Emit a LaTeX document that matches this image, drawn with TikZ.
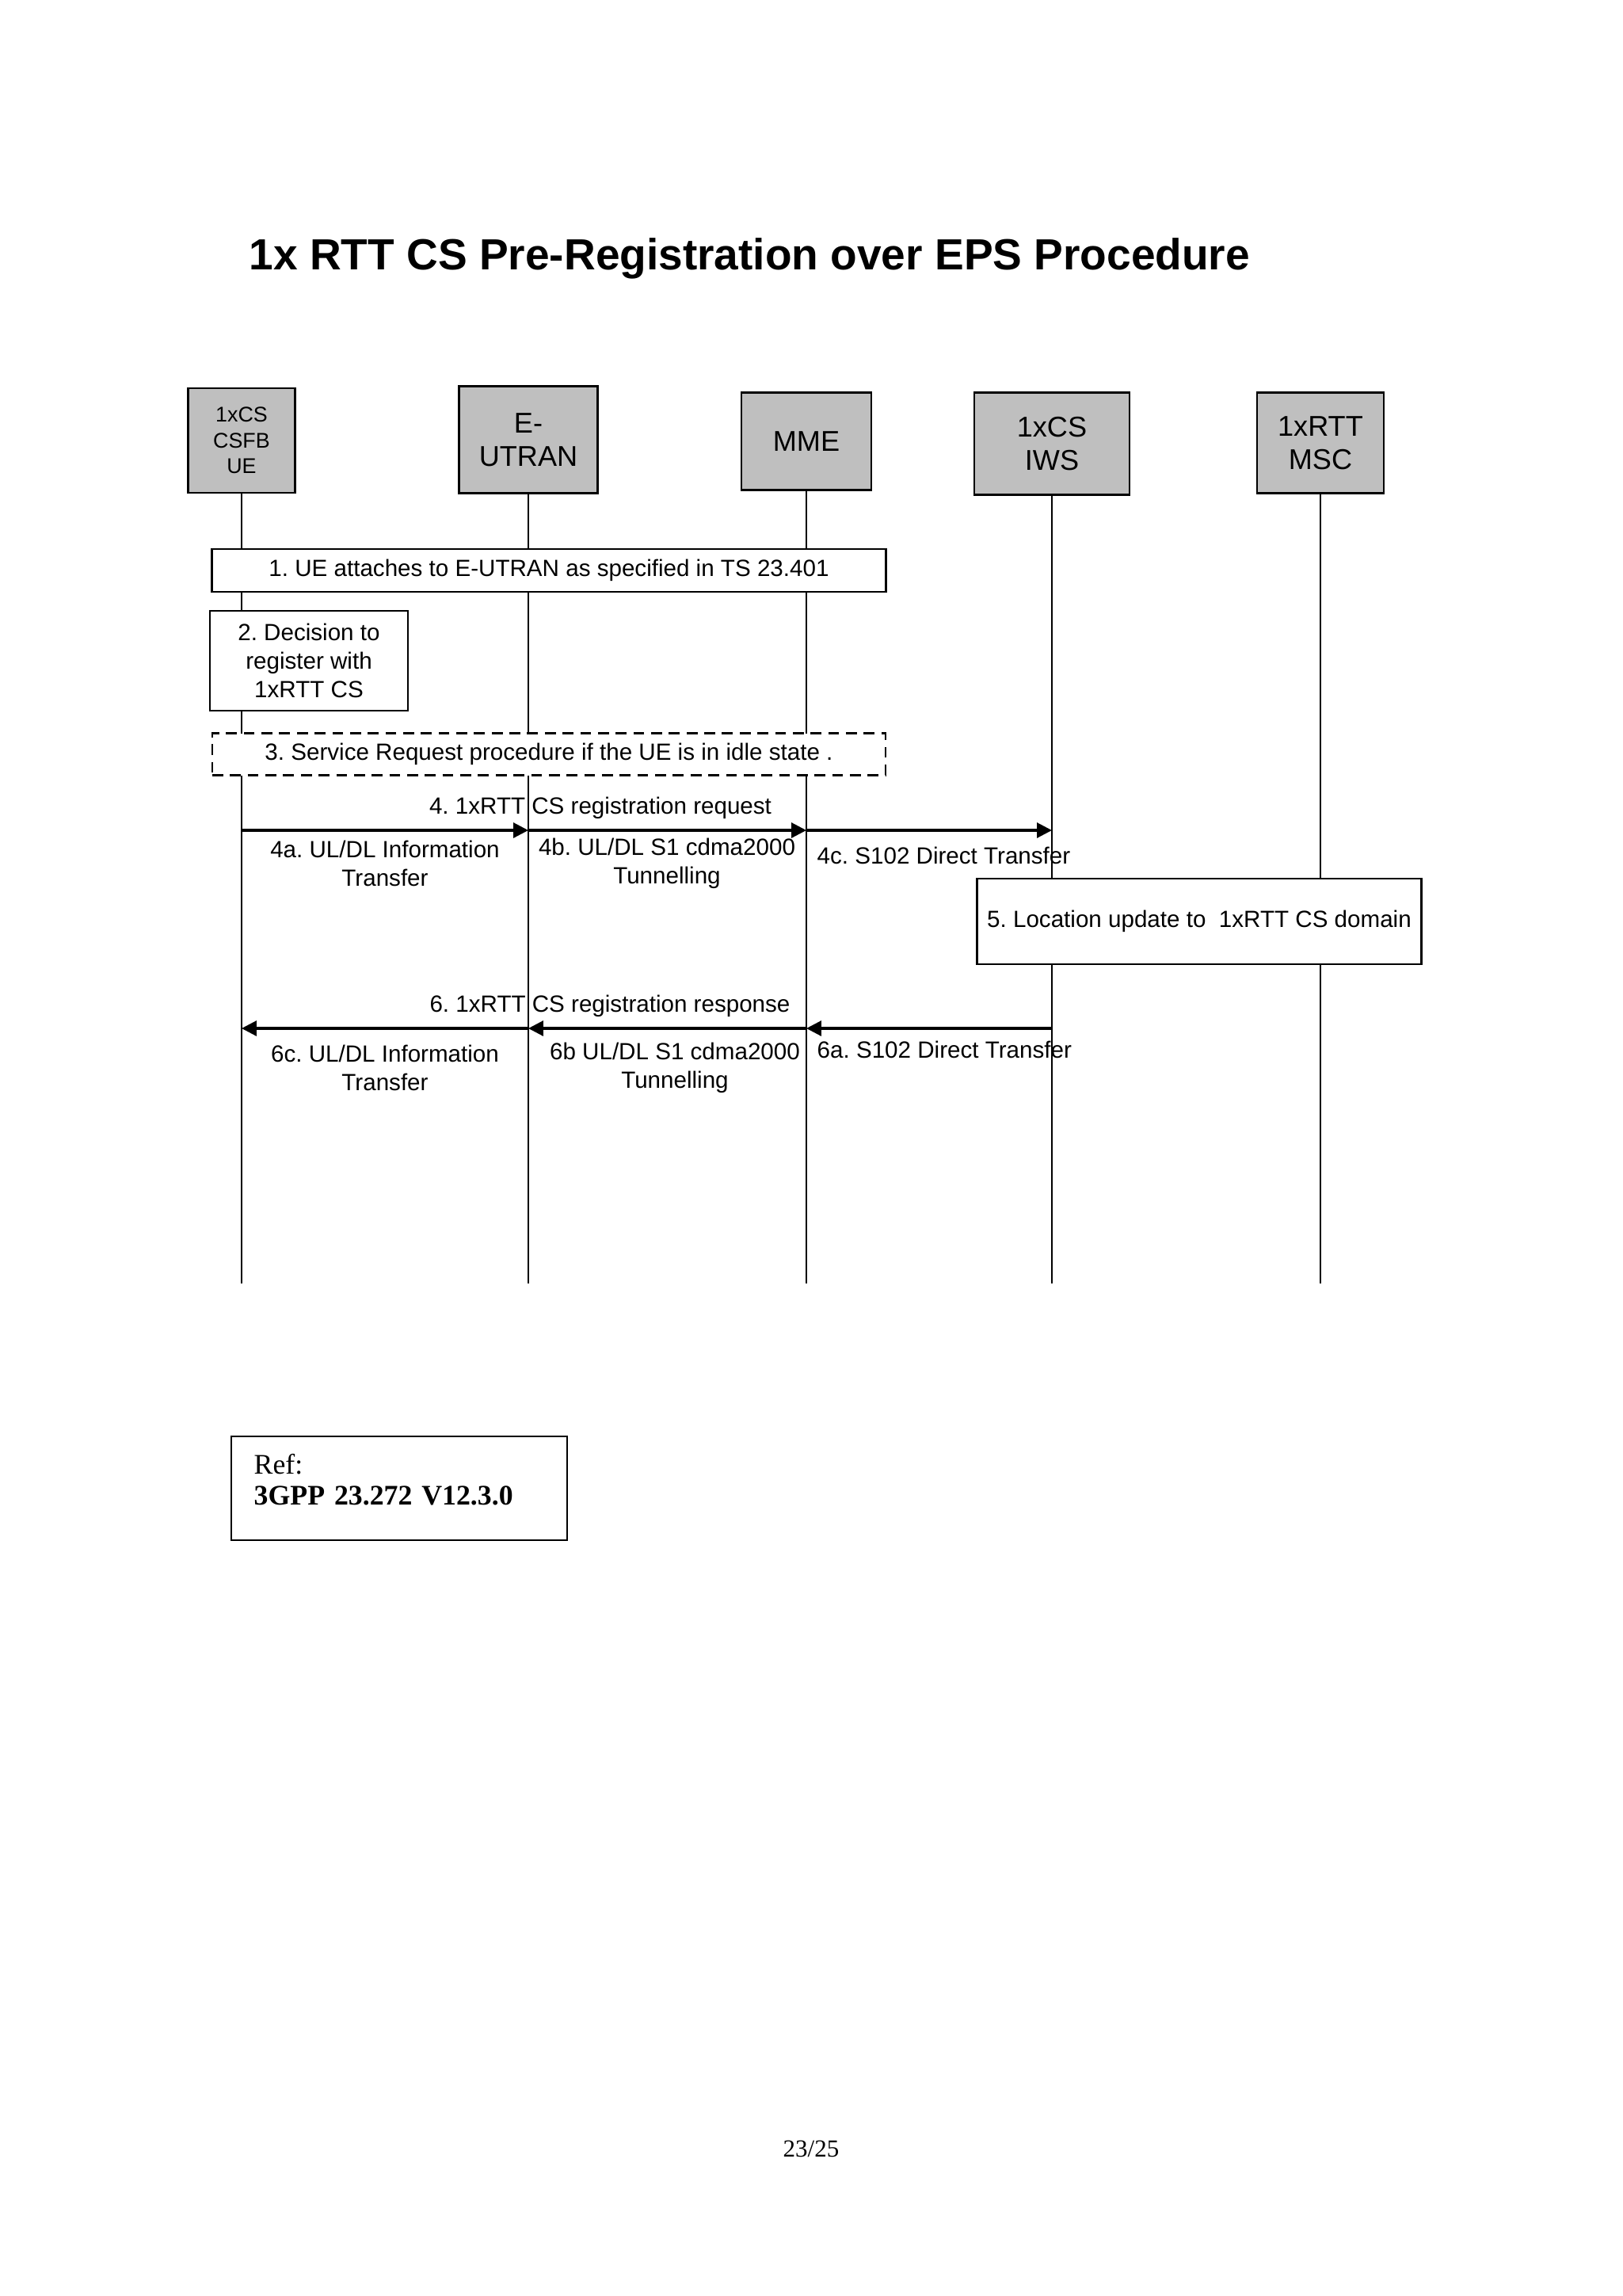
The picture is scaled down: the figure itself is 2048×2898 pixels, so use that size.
\documentclass[tikz,border=0pt]{standalone}
\usepackage{fontspec}
\setmainfont{Liberation Sans}
\newfontfamily\timesfont{Liberation Serif}
\usetikzlibrary{arrows.meta}
\frenchspacing

\def\px{0.29067pt}
\newcommand\msgfont{\fontsize{8.6}{10.4}\selectfont}
\tikzset{
  every node/.style={inner sep=0pt},
  entity/.style={draw, line width=0.6pt, fill=black!25, align=center, font=\fontsize{10.5}{12.2}\selectfont},
  stepbox/.style={draw, line width=0.6pt, fill=white, align=center, font=\msgfont},
  lifeline/.style={line width=0.5pt},
  msg/.style={line width=0.9pt, -{Triangle[length=5.5pt,width=5.5pt]}},
  msgtext/.style={align=center, font=\msgfont},
}

\begin{document}
\begin{tikzpicture}[x=\px, y=-\px]
\useasboundingbox (0,0) rectangle (2048,2898);

\node[anchor=base west, font=\fontsize{16}{19}\selectfont\bfseries] (title) at (314,340) {1x RTT CS Pre-Registration over EPS Procedure};

\node[entity, minimum width=135*\px, minimum height=132*\px, font=\fontsize{7.8}{9.4}\selectfont] (ue) at (305,556) {1xCS\\CSFB\\UE};
\node[entity, minimum width=175*\px, minimum height=135*\px] (eutran) at (667,555) {E-\\UTRAN};
\node[entity, minimum width=164*\px, minimum height=123*\px] (mme) at (1018,557) {MME};
\node[entity, minimum width=196*\px, minimum height=129*\px] (iws) at (1328,560) {1xCS\\IWS};
\node[entity, minimum width=160*\px, minimum height=127*\px] (msc) at (1667,559) {1xRTT\\MSC};

\coordinate (bottom) at (0,1620);
\foreach \n in {ue,eutran,mme,iws,msc}
  \draw[lifeline] (\n) -- (\n |- bottom);

\node[stepbox, minimum width=851*\px, minimum height=54*\px] (s1) at (693,720) {1. UE attaches to E-UTRAN as specified in TS 23.401};
\node[stepbox, minimum width=250*\px, minimum height=126*\px] (s2) at (390,834) {2. Decision to\\register with\\1xRTT CS};
\node[stepbox, dash pattern=on 4pt off 2.5pt, minimum width=850*\px, minimum height=53*\px] (s3) at (693,952) {3. Service Request procedure if the UE is in idle state .};
\node[stepbox, minimum width=561*\px, minimum height=108*\px] (s5) at (1514,1163) {5. Location update to \ 1xRTT CS domain};

\coordinate (r4) at (0,1048);
\draw[msg] (ue |- r4) -- (eutran |- r4);
\draw[msg] (eutran |- r4) -- (mme |- r4);
\draw[msg] (mme |- r4) -- (iws |- r4);
\node[msgtext] (m4) at (758,1020) {4. 1xRTT CS registration request};
\node[msgtext] (m4a) at (486,1090) {4a. UL/DL Information\\Transfer};
\node[msgtext] (m4b) at (842,1090) {4b. UL/DL S1 cdma2000\\Tunnelling};
\node[msgtext, anchor=west] (m4c) at (1031,1080) {4c. S102 Direct Transfer};

\coordinate (r6) at (0,1298);
\draw[msg] (iws |- r6) -- (mme |- r6);
\draw[msg] (mme |- r6) -- (eutran |- r6);
\draw[msg] (eutran |- r6) -- (ue |- r6);
\node[msgtext] (m6) at (770,1270) {6. 1xRTT CS registration response};
\node[msgtext] (m6c) at (486,1348) {6c. UL/DL Information\\Transfer};
\node[msgtext] (m6b) at (852,1348) {6b UL/DL S1 cdma2000\\Tunnelling};
\node[msgtext, anchor=west] (m6a) at (1031,1325) {6a. S102 Direct Transfer};

\draw[line width=0.6pt] (292,1813) rectangle (716,1944);
\node[anchor=base west, align=left, text width=380*\px, font=\timesfont\fontsize{10.4}{11.4}\selectfont] (ref) at (320,1860) {Ref:\\\textbf{3GPP 23.272 V12.3.0}};

\node[anchor=base, font=\timesfont\fontsize{9}{11}\selectfont] (page) at (1024,2722) {23/25};
\end{tikzpicture}
\end{document}
